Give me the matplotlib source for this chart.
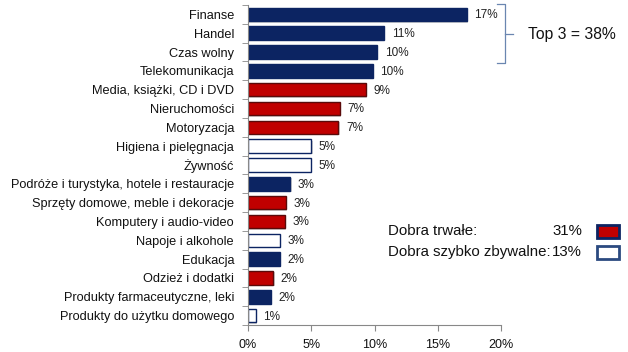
import matplotlib.pyplot as plt
from matplotlib.patches import Rectangle
from matplotlib.lines import Line2D

plt.rcParams['font.family'] = ['Liberation Sans', 'DejaVu Sans']

categories = ['Finanse', 'Handel', 'Czas wolny', 'Telekomunikacja',
              'Media, książki, CD i DVD', 'Nieruchomości', 'Motoryzacja',
              'Higiena i pielęgnacja', 'Żywność',
              'Podróże i turystyka, hotele i restauracje',
              'Sprzęty domowe, meble i dekoracje', 'Komputery i audio-video',
              'Napoje i alkohole', 'Edukacja', 'Odzież i dodatki',
              'Produkty farmaceutyczne, leki', 'Produkty do użytku domowego']
values = [17.3, 10.75, 10.2, 9.85, 9.3, 7.25, 7.15, 5.0, 4.95,
          3.35, 3.0, 2.9, 2.5, 2.5, 2.0, 1.8, 0.6]
value_labels = ['17%', '11%', '10%', '10%', '9%', '7%', '7%', '5%', '5%',
                '3%', '3%', '3%', '3%', '2%', '2%', '2%', '1%']
groups = ['other', 'other', 'other', 'other', 'durable', 'durable', 'durable',
          'fmcg', 'fmcg', 'other', 'durable', 'durable', 'fmcg', 'other',
          'durable', 'other', 'fmcg']
xticks = [0, 5, 10, 15, 20]
legend_names = ['Dobra trwałe:', 'Dobra szybko zbywalne:']
legend_values = ['31%', '13%']
top3_text = 'Top 3 = 38%'

NAVY = '#0c2462'
RED = '#c00000'
face = {'other': NAVY, 'durable': RED, 'fmcg': 'white'}
edge = {'other': NAVY, 'durable': '#5a0a0a', 'fmcg': NAVY}

fig = plt.figure(figsize=(6.28, 3.52), dpi=100)
ax = fig.add_axes([248 / 628, 1 - 325 / 352, 253 / 628, 320 / 352])

n = len(categories)
ypos = list(range(n))
for y, v, g, lab in zip(ypos, values, groups, value_labels):
    # soft shadow
    ax.barh(y + 0.07, v, left=0.1, height=0.72, color='#d4d4d4', zorder=1)
    ax.barh(y, v, height=0.72, color=face[g], edgecolor=edge[g], linewidth=1.0, zorder=2)
    ax.text(v + 0.6, y + 0.05, lab, va='center', ha='left', fontsize=8.5, color='#222222')

ax.set_ylim(n - 0.5, -0.5)
ax.set_xlim(0, 20)
ax.set_yticks(ypos)
ax.set_yticklabels(categories, fontsize=9.2, color='#111111')
ax.tick_params(axis='y', length=0, pad=10)
# tick marks at category boundaries
ax.set_yticks([i - 0.5 for i in range(n + 1)], minor=True)
ax.tick_params(axis='y', which='minor', length=4, color='#888888')
ax.set_xticks(xticks)
ax.set_xticklabels([f'{t}%' for t in xticks], fontsize=9, color='#111111')
ax.tick_params(axis='x', length=4, color='#888888', pad=6)
for s in ['top', 'right']:
    ax.spines[s].set_visible(False)
for s in ['left', 'bottom']:
    ax.spines[s].set_color('#888888')

# brace for top 3
bc = '#6a86b0'
x0, x1, xt = 497 / 628, 505 / 628, 513 / 628
ya, yb, ym = 1 - 4 / 352, 1 - 63 / 352, 1 - 34 / 352
fig.add_artist(Line2D([x0, x1, x1, x0], [ya, ya, yb, yb], color=bc, lw=0.9))
fig.add_artist(Line2D([x1, xt], [ym, ym], color=bc, lw=0.9))
fig.text(528 / 628, ym, top3_text, fontsize=11.3, va='center', ha='left', color='#111111')

# legend
leg_y = [1 - 231 / 352, 1 - 252 / 352]
leg_face = [RED, 'white']
leg_edge = [NAVY, '#2b4a80']
for name, val, y, fc, ec in zip(legend_names, legend_values, leg_y, leg_face, leg_edge):
    fig.text(388 / 628, y, name, fontsize=10.8, va='center', ha='left', color='#111111')
    fig.text(582 / 628, y, val, fontsize=10.8, va='center', ha='right', color='#111111')
    fig.add_artist(Rectangle((597 / 628, y - 6.5 / 352), 22 / 628, 13 / 352,
                             transform=fig.transFigure, facecolor=fc,
                             edgecolor=ec, linewidth=2.0))

fig.savefig('out.png', dpi=100)
